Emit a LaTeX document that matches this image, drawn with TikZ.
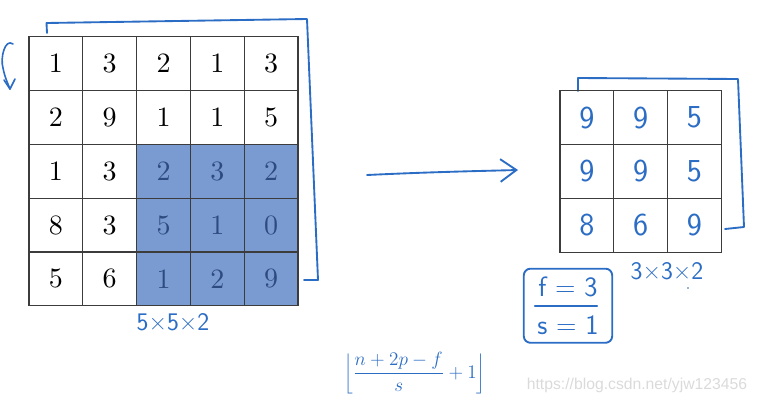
\documentclass[tikz,border=0pt]{standalone}
\usepackage{fontspec}
\usepackage{tikz}
\usetikzlibrary{positioning, arrows.meta, fit, backgrounds}
\newfontfamily\markfont{Liberation Sans}
\newfontfamily\cellfont{lmroman10-regular}[Extension=.otf]
\definecolor{penblue}{HTML}{2B6CC4}
\definecolor{gridline}{HTML}{3C3C3C}
\definecolor{hotfill}{HTML}{7A9AD2}
\definecolor{hottext}{HTML}{2D4B7E}
\definecolor{markgray}{HTML}{DADADA}

\begin{document}
\begin{tikzpicture}[x=0.75pt, y=-0.75pt,
  cell/.style={draw=gridline, line width=0.9pt, minimum size=40.35pt, inner sep=0pt, font=\cellfont\fontsize{21}{25}\selectfont},
  outcell/.style={cell, text=penblue, font=\sffamily\fontsize{24}{28}\selectfont},
  pen/.style={penblue, line width=1.4pt, line cap=round, line join=round},
  hand/.style={text=penblue, inner sep=0pt, font=\sffamily\fontsize{19}{22}\selectfont}]
  \useasboundingbox (0,0) rectangle (758,404);

  % second channel (behind)
  \draw[pen] (47,33) -- (46.5,23) -- (307,19) -- (318,280) -- (304,280);
  \draw[pen] (578,91) -- (578,78) -- (738,79) -- (744,227) -- (725,229);

  % input 5x5
  \foreach \r/\row in {0/{1,3,2,1,3}, 1/{2,9,1,1,5}, 2/{1,3,2,3,2}, 3/{8,3,5,1,0}, 4/{5,6,1,2,9}} {
    \foreach \v [count=\c from 0] in \row {
      \node[cell] (in-\r-\c) at (55.9+53.8*\c, 63.6+53.8*\r) {\ifnum\r>1 \ifnum\c>1 \color{hottext}\fi\fi\v};
    }
  }
  \begin{scope}[on background layer]
    \fill[hotfill] (in-2-2.north west) rectangle (in-4-4.south east);
  \end{scope}

  % output 3x3
  \foreach \r/\row in {0/{9,9,5}, 1/{9,9,5}, 2/{8,6,9}} {
    \foreach \v [count=\c from 0] in \row {
      \node[outcell] (out-\r-\c) at (586.9+53.8*\c, 117.6+53.8*\r) {\v};
    }
  }

  % notes
  \draw[pen, line width=1.2pt] (13,44) .. controls (5,38) and (0,58) .. (3,68) .. controls (5,78) and (8,84) .. (10,89);
  \draw[pen, line width=1.2pt] (4,80) -- (10,89) -- (15,79);
  \node[hand] (in-size) at (173,322) {5×5×2};
  \node[hand] (out-size) at (667,271) {3×3×2};
  \fill[penblue] (688,288) circle (0.7pt);

  \coordinate (arr-s) at (367,175);
  \coordinate (arr-e) at (518,170);
  \draw[pen, -{Straight Barb[length=12pt, width=17pt]}] (arr-s) .. controls (430,172) and (480,171) .. (arr-e);

  \node[hand, font=\sffamily\fontsize{21}{24}\selectfont] (fval) at (568,287) {f = 3};
  \node[hand, font=\sffamily\fontsize{21}{24}\selectfont] (sval) at (568,325) {s = 1};
  \node[draw=penblue, line width=1.4pt, rounded corners=5pt, inner xsep=10pt, inner ysep=6pt, fit=(fval)(sval)] (fsbox) {};
  \draw[pen] ([xshift=9pt]fsbox.west) -- ([xshift=-12pt]fsbox.east);

  \node[text=penblue, font=\fontsize{15}{18}\selectfont] (outdim) at (415,373) {$\displaystyle\left\lfloor \frac{n+2p-f}{s}+1 \right\rfloor$};

  \node[text=markgray, font=\markfont\fontsize{11.8}{14}\selectfont] (mark) at (637,385) {https://blog.csdn.net/yjw123456};
\end{tikzpicture}
\end{document}
